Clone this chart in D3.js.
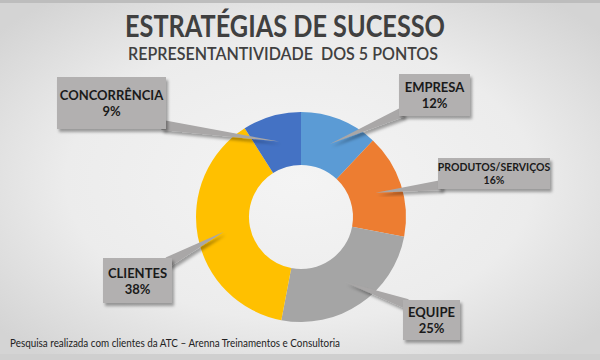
<!DOCTYPE html>
<html><head><meta charset="utf-8">
<script src="https://cdn.jsdelivr.net/npm/d3@7"></script>
<style>html,body{margin:0;padding:0;background:#e6e6e6}svg{display:block}</style>
</head><body>
<svg id="c" width="600" height="360"></svg>
<script>
const categories = ["EMPRESA", "PRODUTOS/SERVIÇOS", "EQUIPE", "CLIENTES", "CONCORRÊNCIA"];
const values = [12, 16, 25, 38, 9];
const colors = ["#5b9bd5", "#ed7d31", "#a5a5a5", "#ffc000", "#4472c4"];
const title = "ESTRATÉGIAS DE SUCESSO";
const subtitle = "REPRESENTANTIVIDADE  DOS 5 PONTOS";
const footer = "Pesquisa realizada com clientes da ATC – Arenna Treinamentos e Consultoria";
// label box layout [x, y, w, h, fontSize]
const labelBoxes = [
  [399, 74, 71, 42, 13],
  [438, 158, 112, 31, 10.5],
  [403, 300, 57, 40, 13],
  [103, 258, 69, 45, 13],
  [57, 77, 109, 52, 13]
];

const W = 600, H = 360, cx = 301, cy = 217, rOut = 105, rIn = 52;
const svg = d3.select("#c");
const defs = svg.append("defs");
const bg = defs.append("radialGradient").attr("id", "bg").attr("cx", "50%").attr("cy", "50%").attr("r", "65%");
bg.append("stop").attr("offset", "0%").attr("stop-color", "#f4f4f4");
bg.append("stop").attr("offset", "60%").attr("stop-color", "#ececec");
bg.append("stop").attr("offset", "100%").attr("stop-color", "#d4d4d4");
const sh = defs.append("filter").attr("id", "sh").attr("x", "-20%").attr("y", "-20%").attr("width", "150%").attr("height", "150%");
sh.append("feDropShadow").attr("dx", 2).attr("dy", 3).attr("stdDeviation", 1.6).attr("flood-color", "#000").attr("flood-opacity", 0.35);

svg.append("rect").attr("width", W).attr("height", H).attr("fill", "url(#bg)");
svg.append("rect").attr("width", W).attr("height", 3).attr("fill", "#bdbdbd");
svg.append("rect").attr("y", H - 6).attr("width", W).attr("height", 6).attr("fill", "#cfcfcf");

svg.append("text").attr("x", 285).attr("y", 37).attr("text-anchor", "middle")
  .attr("font-family", "Lato, 'Open Sans', sans-serif").attr("font-weight", "bold")
  .attr("font-size", 30).attr("fill", "#404040")
  .attr("textLength", 320).attr("lengthAdjust", "spacingAndGlyphs").text(title);
svg.append("text").attr("x", 283).attr("y", 60).attr("text-anchor", "middle")
  .attr("font-family", "Lato, 'Open Sans', sans-serif").attr("font-weight", "600")
  .attr("font-size", 17).attr("fill", "#404040").style("white-space", "pre")
  .attr("textLength", 310).attr("lengthAdjust", "spacingAndGlyphs").text(subtitle);

const g = svg.append("g").attr("transform", `translate(${cx},${cy})`);
const pie = d3.pie().sort(null).value(d => d)(values);
const arc = d3.arc().innerRadius(rIn).outerRadius(rOut);
g.selectAll("path.slice").data(pie).join("path").attr("class", "slice")
  .attr("d", arc).attr("fill", (d, i) => colors[i]);

const lg = svg.append("g");
pie.forEach((d, i) => {
  const [bx, by, bw, bh, fs] = labelBoxes[i];
  const c = arc.centroid(d);
  const tx = cx + c[0], ty = cy + c[1];
  const bcx = bx + bw / 2, bcy = by + bh / 2;
  let ax = Math.max(bx + 4, Math.min(bx + bw - 4, tx));
  let ay = Math.max(by + 4, Math.min(by + bh - 4, ty));
  const dx = tx - ax, dy = ty - ay, len = Math.hypot(dx, dy);
  const nx = -dy / len, ny = dx / len, half = 5;
  lg.append("path")
    .attr("d", `M${ax + nx * half},${ay + ny * half}L${tx},${ty}L${ax - nx * half},${ay - ny * half}Z`)
    .attr("fill", "#a9a7a7").attr("filter", "url(#sh)");
  lg.append("rect").attr("x", bx).attr("y", by).attr("width", bw).attr("height", bh)
    .attr("fill", "#b2b0b0").attr("filter", "url(#sh)");
  const t = lg.append("text").attr("x", bcx).attr("text-anchor", "middle")
    .attr("font-family", "Lato, 'Open Sans', sans-serif").attr("font-weight", "bold")
    .attr("font-size", fs).attr("fill", "#1a1a1a");
  t.append("tspan").attr("x", bcx).attr("y", bcy - fs * 0.2).text(categories[i]);
  t.append("tspan").attr("x", bcx).attr("y", bcy + fs * 1.0).text(values[i] + "%");
});

svg.append("text").attr("x", 10).attr("y", 347)
  .attr("font-family", "Lato, 'Open Sans', sans-serif").attr("font-size", 11.5)
  .attr("fill", "#222").attr("textLength", 330).attr("lengthAdjust", "spacingAndGlyphs").text(footer);
</script>
</body></html>
